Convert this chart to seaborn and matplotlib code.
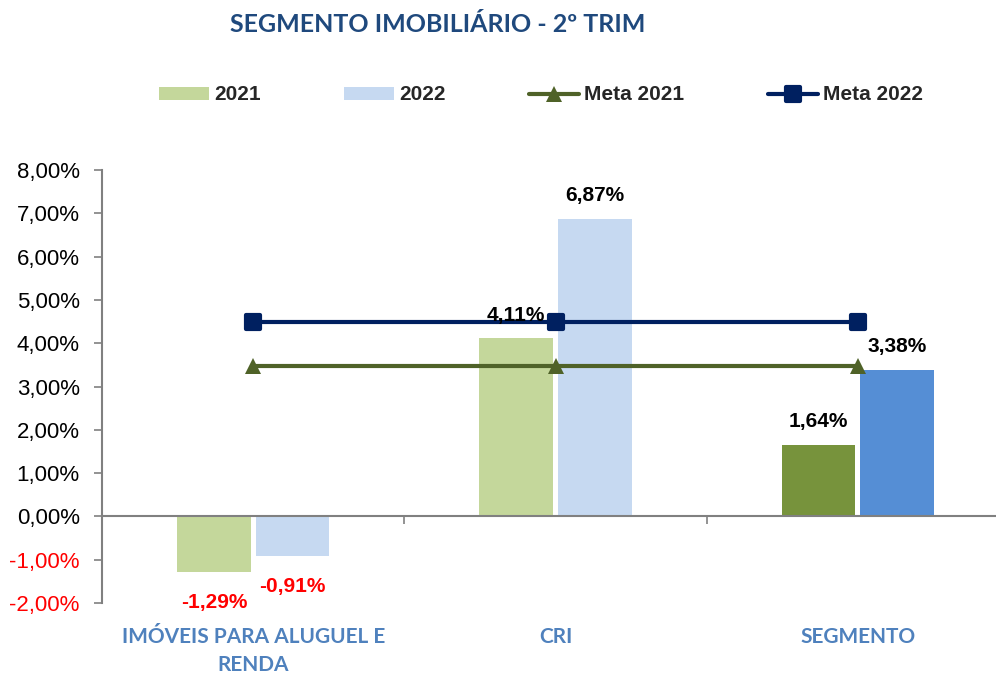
import matplotlib
matplotlib.use("Agg")
import matplotlib.pyplot as plt
from matplotlib import font_manager
from matplotlib.patches import Patch
from matplotlib.lines import Line2D
from matplotlib.markers import MarkerStyle
from matplotlib.ticker import FuncFormatter, FixedLocator
import seaborn as sns
import pandas as pd
import numpy as np

categories = ["IMÓVEIS PARA ALUGUEL E\nRENDA", "CRI", "SEGMENTO"]
years = ["2021", "2022"]
values_2021 = [-1.29, 4.11, 1.64]
values_2022 = [-0.91, 6.87, 3.38]
meta_2021 = [3.48, 3.48, 3.48]
meta_2022 = [4.50, 4.50, 4.50]
y_ticks = [-2, -1, 0, 1, 2, 3, 4, 5, 6, 7, 8]

sns.set_theme(style="white")
names = {f.name for f in font_manager.fontManager.ttflist}
narrow = "Liberation Sans Narrow" if "Liberation Sans Narrow" in names else "Liberation Sans"
plt.rcParams["font.family"] = ["Liberation Sans", "DejaVu Sans"]

light = {"2021": "#C4D79B", "2022": "#C6D9F1"}
dark = {"2021": "#77933C", "2022": "#558ED5"}
meta_colors = {"Meta 2021": "#4F6228", "Meta 2022": "#002060"}
cat_color = "#4F81BD"
title_color = "#1F497D"

df = pd.DataFrame({
    "categoria": categories * 2,
    "ano": [years[0]] * 3 + [years[1]] * 3,
    "valor": values_2021 + values_2022,
})

fig = plt.figure(figsize=(9.96, 6.73), dpi=100)
ax = fig.add_axes([102 / 996, 70 / 673, 1 - 102 / 996, 433 / 673])

sns.barplot(data=df, x="categoria", y="valor", hue="ano", order=categories,
            hue_order=years, palette=light, width=0.52, gap=0.06,
            legend=False, ax=ax, saturation=1)

# highlight the total segment with stronger colours
for yr, cont in zip(years, ax.containers):
    for i, bar in enumerate(cont):
        bar.set_edgecolor("none")
        if i == 2:
            bar.set_facecolor(dark[yr])

# value labels above / below each bar
for yr, cont in zip(years, ax.containers):
    vals = values_2021 if yr == "2021" else values_2022
    labels = [f"{v:.2f}%".replace(".", ",") for v in vals]
    texts = ax.bar_label(cont, labels=labels, padding=10, fontsize=15,
                         fontweight="bold", family=narrow)
    for t, v in zip(texts, vals):
        if v < 0:
            t.set_color("#FF0000")
            t.xyann = (t.xyann[0], t.xyann[1] - 5)
        else:
            t.set_color("black")

# target lines
pos = np.arange(len(categories))
rounded_square = MarkerStyle("s", joinstyle="round")
sns.lineplot(x=pos, y=meta_2021, ax=ax, color=meta_colors["Meta 2021"], lw=3,
             marker="^", markersize=12, markeredgewidth=0, legend=False)
sns.lineplot(x=pos, y=meta_2022, ax=ax, color=meta_colors["Meta 2022"], lw=3,
             marker=rounded_square, markersize=10, markeredgewidth=3,
             markeredgecolor=meta_colors["Meta 2022"], legend=False)

ax.set_ylim(-2, 8)
ax.set_xlim(-0.5, (995 - 102) / 302 - 0.5)
ax.yaxis.set_major_locator(FixedLocator(y_ticks))
ax.yaxis.set_major_formatter(FuncFormatter(lambda v, _: f"{v:.2f}%".replace(".", ",")))
ax.tick_params(axis="y", labelsize=16, length=6, width=1.2, color="#808080",
               direction="out", left=True, pad=10)
for lab, v in zip(ax.get_yticklabels(), y_ticks):
    lab.set_color("#FF0000" if v < 0 else "black")

for s in ["top", "right"]:
    ax.spines[s].set_visible(False)
ax.spines["left"].set_color("#808080")
ax.spines["left"].set_linewidth(1.5)
ax.spines["bottom"].set_position(("data", 0))
ax.spines["bottom"].set_color("#808080")
ax.spines["bottom"].set_linewidth(1.5)
ax.xaxis.set_major_locator(FixedLocator([0.5, 1.5]))
ax.tick_params(axis="x", bottom=True, length=6, width=1.2, color="#808080",
               labelbottom=False)
ax.set_xlabel("")
ax.set_ylabel("")

for i, c in enumerate(categories):
    ax.text(i, -2.55, c, ha="center", va="top", fontsize=15, fontweight="bold",
            color=cat_color, family=["Lato", "DejaVu Sans"], linespacing=1.5,
            transform=ax.transData, clip_on=False)

fig.text(438 / 996, 1 - 25 / 673, "SEGMENTO IMOBILIÁRIO - 2º TRIM", ha="center",
         va="center", fontsize=18, fontweight="bold", color=title_color,
         family=["Lato", "DejaVu Sans"])

handles = [
    Patch(facecolor=light["2021"], edgecolor="none", label="2021"),
    Patch(facecolor=light["2022"], edgecolor="none", label="2022"),
    Line2D([], [], color=meta_colors["Meta 2021"], lw=3, marker="^", markersize=12,
           markeredgewidth=0, label="Meta 2021"),
    Line2D([], [], color=meta_colors["Meta 2022"], lw=3, marker=rounded_square,
           markersize=10, markeredgewidth=3,
           markeredgecolor=meta_colors["Meta 2022"], label="Meta 2022"),
]
fig.legend(handles=handles, loc="center", bbox_to_anchor=(541 / 996, 1 - 95 / 673),
           ncol=4, frameon=False, handlelength=2.4, handleheight=0.6,
           handletextpad=0.25, columnspacing=4,
           prop={"family": narrow, "weight": "bold", "size": 15})

fig.savefig("out.png", dpi=100)
